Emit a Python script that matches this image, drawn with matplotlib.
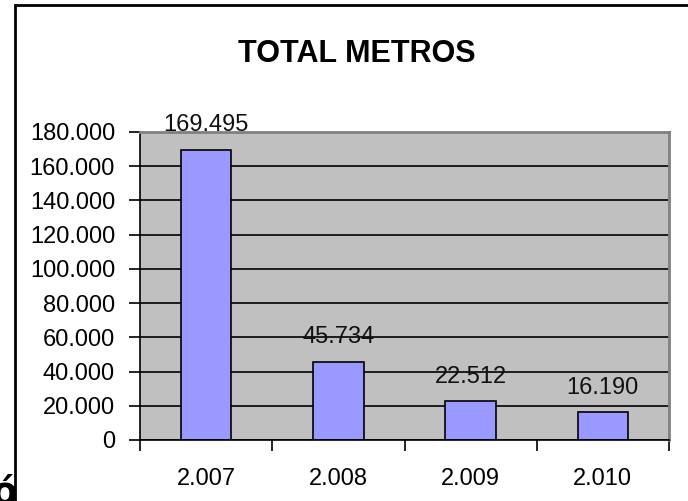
import matplotlib
matplotlib.use("Agg")
import matplotlib.pyplot as plt
from matplotlib.patches import Rectangle
from matplotlib.ticker import FuncFormatter, MultipleLocator

# data
years = ["2.007", "2.008", "2.009", "2.010"]
metros = [169495, 45734, 22512, 16190]
labels = ["169.495", "45.734", "22.512", "16.190"]

W, H = 688, 501
plt.rcParams["font.family"] = ["Liberation Sans", "DejaVu Sans"]

fig = plt.figure(figsize=(W / 100, H / 100), dpi=100)
fig.patch.set_facecolor("white")

# stray glyph left of the chart frame, partly hidden
fig.text(17 / W, 1 - 503 / H, "ó", fontsize=27, fontweight="bold",
         family="DejaVu Sans", ha="right", va="baseline", zorder=-2)
# chart frame (runs off the right and bottom of the image)
fig.patches.append(Rectangle((15 / W, -0.2), 1.5, 1 - 5 / H + 0.2,
                             transform=fig.transFigure, facecolor="white",
                             edgecolor="black", linewidth=2, zorder=-1))

ax = fig.add_axes([140 / W, 61 / H, 529 / W, 308 / H])
ax.set_facecolor("#c0c0c0")

x = range(len(years))
ax.bar(x, metros, width=0.38, color="#9999ff", edgecolor="black",
       linewidth=1.2, zorder=2)

for i, (v, lab) in enumerate(zip(metros, labels)):
    ax.annotate(lab, (i, v), xytext=(0, 13.5), textcoords="offset points",
                ha="center", va="baseline", fontsize=17, color="#111111")

ax.set_ylim(0, 180000)
ax.set_xlim(-0.5, len(years) - 0.5)
ax.yaxis.set_major_locator(MultipleLocator(20000))
ax.yaxis.set_major_formatter(FuncFormatter(lambda v, p: f"{v:,.0f}".replace(",", ".")))
ax.grid(axis="y", color="black", linewidth=1.2)
ax.set_axisbelow(True)

ax.set_xticks([i + 0.5 for i in range(-1, len(years))], minor=False)
ax.set_xticklabels([])
ax.set_xticks(list(x), minor=True)
ax.set_xticklabels(years, minor=True)
ax.tick_params(axis="x", which="major", direction="out", length=8, width=1.2)
ax.tick_params(axis="x", which="minor", length=0, pad=20, labelsize=17)
ax.tick_params(axis="y", direction="out", length=8, width=1.2, pad=10, labelsize=17)

for s in ["left", "bottom"]:
    ax.spines[s].set_color("black")
    ax.spines[s].set_linewidth(1.2)
for s in ["top", "right"]:
    ax.spines[s].set_color("#808080")
    ax.spines[s].set_linewidth(2)

fig.text(357 / W, 1 - 62 / H, "TOTAL METROS", fontsize=22, fontweight="bold",
         ha="center", va="baseline")

fig.savefig("out.png", dpi=100)
